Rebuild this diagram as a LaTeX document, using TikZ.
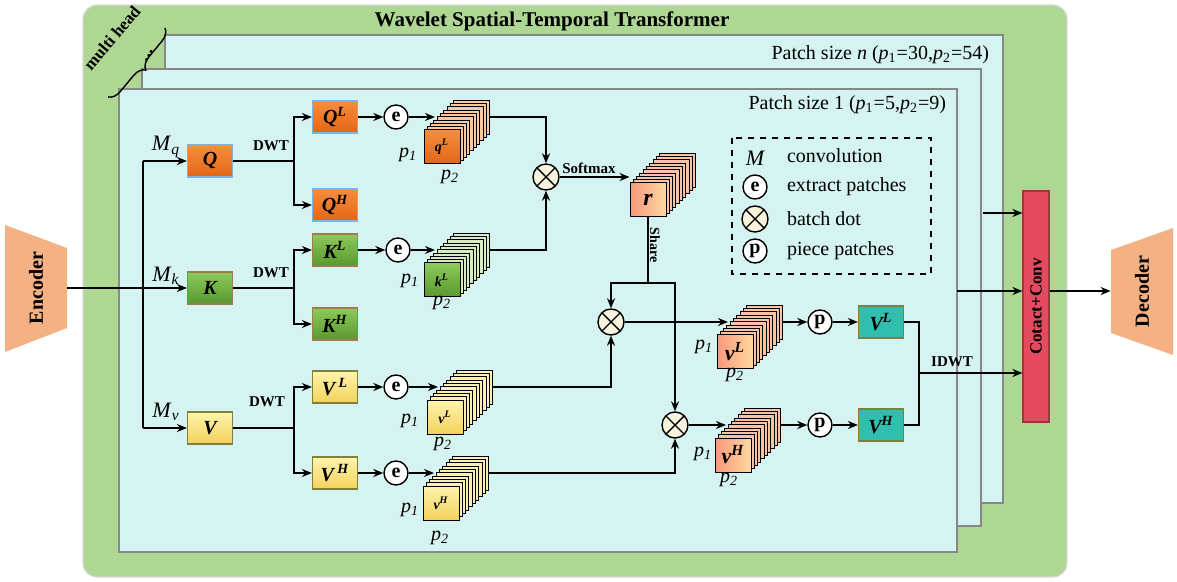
\documentclass[tikz,border=0pt]{standalone}
\usepackage{fontspec}
\setmainfont{Liberation Serif}
\usetikzlibrary{arrows.meta,decorations.pathreplacing}

\definecolor{bandgreen}{RGB}{173,215,146}
\definecolor{panelcyan}{RGB}{213,243,241}
\definecolor{panelline}{RGB}{135,135,135}
\definecolor{qtop}{RGB}{246,142,62}
\definecolor{qbot}{RGB}{226,102,22}
\definecolor{qedge}{RGB}{125,178,226}
\definecolor{qslab}{RGB}{248,201,162}
\definecolor{ktop}{RGB}{142,202,92}
\definecolor{kbot}{RGB}{88,152,46}
\definecolor{kedge}{RGB}{160,122,80}
\definecolor{kslab}{RGB}{214,236,194}
\definecolor{vtop}{RGB}{255,244,172}
\definecolor{vbot}{RGB}{242,210,92}
\definecolor{vedge}{RGB}{128,128,60}
\definecolor{vslab}{RGB}{251,239,181}
\definecolor{idwtteal}{RGB}{48,190,175}
\definecolor{peach}{RGB}{248,152,124}
\definecolor{sand}{RGB}{255,216,160}
\definecolor{rslab}{RGB}{249,195,168}
\definecolor{ccred}{RGB}{228,75,94}
\definecolor{coderfill}{RGB}{244,177,131}
\definecolor{dotfill}{RGB}{248,243,220}

\tikzset{
  every node/.style={font=\fontsize{10}{12}\selectfont},
  arr/.style={-{Stealth[length=5pt,width=4pt]}, line width=0.8pt},
  wire/.style={line width=0.8pt},
  panel/.style={fill=panelcyan, draw=panelline, line width=0.9pt},
  box/.style={minimum width=22.5pt, minimum height=16pt, inner sep=0pt, line width=0.6pt,
    font=\fontsize{10}{12}\selectfont\bfseries\itshape},
  qbox/.style={box, draw=qedge, top color=qtop, bottom color=qbot},
  kbox/.style={box, draw=kedge, top color=ktop, bottom color=kbot},
  vbox/.style={box, draw=vedge, top color=vtop, bottom color=vbot},
  tbox/.style={box, draw=vedge, fill=idwtteal},
  cubeface/.style={draw, line width=0.5pt, minimum width=18pt, minimum height=17pt, inner sep=0pt,
    font=\fontsize{7}{8}\selectfont\bfseries\itshape},
  op/.style={circle, draw, line width=0.7pt, fill=white, minimum size=12pt, inner sep=0pt,
    font=\fontsize{10}{12}\selectfont\bfseries},
  bdot/.style={circle, draw, line width=0.7pt, fill=dotfill, minimum size=13pt, inner sep=0pt,
    path picture={\draw[line width=0.7pt] (path picture bounding box.north west) -- (path picture bounding box.south east)
      (path picture bounding box.north east) -- (path picture bounding box.south west);}},
  plabel/.style={font=\fontsize{10}{12}\selectfont\itshape},
  small/.style={font=\fontsize{7.5}{9}\selectfont\bfseries},
}

\newcommand{\patchcube}[6]{%
  \foreach \i in {9,8,...,1}{
    \draw[fill=#5, line width=0.5pt] ({#2-18+3.3*\i},{#3-17-3.3*\i}) rectangle ({#2+18+3.3*\i},{#3+17-3.3*\i});
  }
  \node[cubeface, #4] (#1) at (#2,#3) {#6};
  \coordinate (#1-in) at ({#2-7},{#3-30});
  \coordinate (#1-out) at ({#2+48},{#3-30});
}

\begin{document}
\begin{tikzpicture}[x=0.5pt,y=-0.5pt]
\useasboundingbox (0,0) rectangle (1177,582);
\filldraw[fill=bandgreen, draw=black!15, line width=0.6pt, rounded corners=7pt] (83,5) rectangle (1067,577);
\node[font=\fontsize{10.5}{12}\selectfont\bfseries] (title) at (552,21) {Wavelet Spatial-Temporal Transformer};

\filldraw[panel] (165,35) rectangle (1003,503);
\filldraw[panel] (142,69) rectangle (981,526);
\filldraw[panel] (119,89) rectangle (957,552);
\node[anchor=east] (sizen) at (996,55) {Patch size \textit{n} (\textit{p}\textsubscript{1}=30,\textit{p}\textsubscript{2}=54)};
\node[anchor=east] (sizeone) at (953,105) {Patch size 1 (\textit{p}\textsubscript{1}=5,\textit{p}\textsubscript{2}=9)};

\draw[decorate, decoration={brace, amplitude=6pt}, line width=0.7pt] (165,28) -- (108,97);
\node[rotate=50, font=\fontsize{8.5}{10}\selectfont\bfseries] (multi) at (112,38) {multi head};
\node[rotate=60, font=\fontsize{9}{10}\selectfont\bfseries] (more) at (149,56) {...};

\fill[coderfill] (5,225) -- (67,248) -- (67,328) -- (5,352) -- cycle;
\node[minimum width=31pt, minimum height=63pt, inner sep=0pt] (enc) at (36,288) {\rotatebox{90}{\bfseries Encoder}};
\fill[coderfill] (1111,250) -- (1173,228) -- (1173,355) -- (1111,333) -- cycle;
\node[minimum width=31pt, minimum height=63pt, inner sep=0pt] (dec) at (1142,291.5) {\rotatebox{90}{\bfseries Decoder}};

\node[qbox] (Q) at (210,161) {Q};
\node[kbox] (K) at (210,288) {K};
\node[vbox] (V) at (210,428) {V};
\node[qbox] (QL) at (335,117) {Q\textsuperscript{L}};
\node[qbox] (QH) at (335,205) {Q\textsuperscript{H}};
\node[kbox] (KL) at (335,250) {K\textsuperscript{L}};
\node[kbox] (KH) at (335,324) {K\textsuperscript{H}};
\node[vbox] (VL) at (335,387) {V\,\textsuperscript{L}};
\node[vbox] (VH) at (335,473) {V\,\textsuperscript{H}};

\node[op] (eQ) at (396,117) {e};
\node[op] (eK) at (398,250) {e};
\node[op] (eVL) at (396,387) {e};
\node[op] (eVH) at (396,473) {e};

\patchcube{qL}{442}{147}{top color=qtop, bottom color=qbot}{qslab}{q\textsuperscript{L}}
\patchcube{kL}{442}{280}{top color=ktop, bottom color=kbot}{kslab}{k\textsuperscript{L}}
\patchcube{vLy}{445}{417}{top color=vtop, bottom color=vbot}{vslab}{v\textsuperscript{L}}
\patchcube{vHy}{441}{503}{top color=vtop, bottom color=vbot}{vslab}{v\textsuperscript{H}}
\patchcube{r}{648}{200}{left color=peach, right color=sand, font=\fontsize{12}{14}\selectfont\bfseries\itshape}{rslab}{r}
\patchcube{vLo}{735}{352}{left color=peach, right color=sand, font=\fontsize{11}{13}\selectfont\bfseries\itshape}{rslab}{v\textsuperscript{L}}
\patchcube{vHo}{733}{455}{left color=peach, right color=sand, font=\fontsize{11}{13}\selectfont\bfseries\itshape}{rslab}{v\textsuperscript{H}}

\node[plabel] (qLpa) at (408,155) {p\textsubscript{1}};
\node[plabel] (qLpb) at (450,177) {p\textsubscript{2}};
\node[plabel] (kLpa) at (410,281) {p\textsubscript{1}};
\node[plabel] (kLpb) at (442,303) {p\textsubscript{2}};
\node[plabel] (vLypa) at (410,421) {p\textsubscript{1}};
\node[plabel] (vLypb) at (443,444) {p\textsubscript{2}};
\node[plabel] (vHypa) at (410,510) {p\textsubscript{1}};
\node[plabel] (vHypb) at (440,538) {p\textsubscript{2}};
\node[plabel] (vLopa) at (704,347) {p\textsubscript{1}};
\node[plabel] (vLopb) at (735,375) {p\textsubscript{2}};
\node[plabel] (vHopa) at (703,454) {p\textsubscript{1}};
\node[plabel] (vHopb) at (729,480) {p\textsubscript{2}};

\node[bdot] (otqk) at (546,177) {};
\node[bdot] (ot1) at (611,322) {};
\node[bdot] (ot2) at (675,425) {};
\node[op] (pL) at (820,322) {p};
\node[op] (pH) at (820,425) {p};
\node[tbox] (VLt) at (881,322) {V\textsuperscript{L}};
\node[tbox] (VHt) at (881,425) {V\textsuperscript{H}};
\node[draw=ccred!70!black, fill=ccred, line width=0.6pt, minimum width=13pt, minimum height=115.5pt, inner sep=0pt,
  font=\fontsize{8.5}{10}\selectfont\bfseries] (cc) at (1036,306.5) {\rotatebox{90}{Cotact+Conv}};

\coordinate (msplit) at (143,288);
\draw[arr] (enc.east) -- (K.west);
\draw[wire] (msplit |- Q.west) -- (msplit |- V.west);
\draw[arr] (msplit |- Q.west) -- (Q.west);
\draw[arr] (msplit |- V.west) -- (V.west);
\node[font=\fontsize{11}{13}\selectfont] (Mq) at (166,147) {\textit{M}\textsubscript{\textit{q}}};
\node[font=\fontsize{11}{13}\selectfont] (Mk) at (166,276) {\textit{M}\textsubscript{\textit{k}}};
\node[font=\fontsize{11}{13}\selectfont] (Mv) at (166,412) {\textit{M}\textsubscript{\textit{v}}};

\coordinate (bq) at (294,161);
\coordinate (bk) at (294,288);
\coordinate (bv) at (294,428);
\draw[wire] (Q) -- (bq);
\draw[arr] (bq) |- (QL);
\draw[arr] (bq) |- (QH);
\draw[wire] (K) -- (bk);
\draw[arr] (bk) |- (KL);
\draw[arr] (bk) |- (KH);
\draw[wire] (V) -- (bv);
\draw[arr] (bv) |- (VL);
\draw[arr] (bv) |- (VH);
\node[small] (dwtq) at (271,146) {DWT};
\node[small] (dwtk) at (271,273) {DWT};
\node[small] (dwtv) at (267,402) {DWT};

\draw[arr] (QL) -- (eQ);
\draw[arr] (eQ) -- (qL-in);
\draw[arr] (KL) -- (eK);
\draw[arr] (eK) -- (kL-in);
\draw[arr] (VL) -- (eVL);
\draw[arr] (eVL) -- (vLy-in);
\draw[arr] (VH) -- (eVH);
\draw[arr] (eVH) -- (vHy-in);

\draw[arr] (qL-out) -| (otqk);
\draw[arr] (kL-out) -| (otqk);
\draw[arr] (otqk) -- (otqk -| r.north west);
\node[small] (softmax) at (589,168) {Softmax};

\coordinate (share) at (648,283);
\draw[wire] (r.south) -- (share);
\node[rotate=-90, font=\fontsize{7}{8}\selectfont\bfseries] (sharelabel) at (655,245) {Share};
\draw[arr] (share) -| (ot1);
\draw[arr] (share) -| (ot2);
\draw[arr] (vLy-out) -| (ot1);
\draw[arr] (vHy-out) -| (ot2);
\draw[arr] (ot1) -- (vLo-in);
\draw[arr] (ot2) -- (vHo-in);
\draw[arr] (vLo-out) -- (pL);
\draw[arr] (pL) -- (VLt);
\draw[arr] (vHo-out) -- (pH);
\draw[arr] (pH) -- (VHt);

\coordinate (idwt) at (919,373);
\draw[wire] (VLt.east) -| (idwt) |- (VHt.east);
\draw[arr] (idwt) -- (idwt -| cc.west);
\node[small] (idwtlabel) at (952,362) {IDWT};
\coordinate (outn) at (983,213);
\coordinate (outm) at (957,291);
\draw[arr] (outn) -- (outn -| cc.west);
\draw[arr] (outm) -- (outm -| cc.west);
\draw[arr] (cc.east |- outm) -- (dec.west |- outm);

\draw[dashed, line width=0.6pt] (732,138) rectangle (931,274);
\node[font=\fontsize{11}{13}\selectfont\itshape] (legM) at (755,158) {M};
\node[op] (lege) at (755,187) {e};
\node[bdot] (legdot) at (755,219) {};
\node[op] (legp) at (755,251) {p};
\node[anchor=west] (legMt) at (780,156) {convolution};
\node[anchor=west] (leget) at (780,187) {extract patches};
\node[anchor=west] (legdott) at (780,219) {batch dot};
\node[anchor=west] (legpt) at (780,251) {piece patches};
\end{tikzpicture}
\end{document}
